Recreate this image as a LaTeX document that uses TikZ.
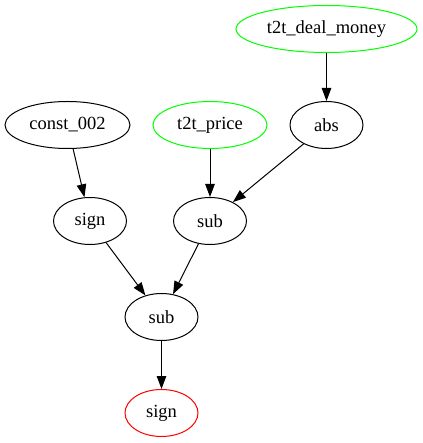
\documentclass[tikz,border=0pt]{standalone}
\usepackage{fontspec}
\setmainfont{Liberation Serif}
\usetikzlibrary{shapes.geometric,arrows.meta}

\begin{document}
\begin{tikzpicture}[x=1pt, y=-1pt,
        op/.style={ellipse, draw, line width=1pt, minimum height=47pt, inner sep=0pt, font=\fontsize{18.5}{20}\selectfont},
        edge/.style={line width=1pt, -{Triangle[length=13pt, width=9.5pt]}}]
        \useasboundingbox (0, 0) rectangle (422, 443);
        \node[op, draw=green, minimum width=181pt](money)at(326.5, 29){t2t\_deal\_money};
        \node[op, minimum width=125pt](const)at(67.5, 125){const\_002};
        \node[op, draw=green, minimum width=114pt](price)at(210, 125){t2t\_price};
        \node[op, minimum width=73pt](abs)at(326.5, 125){abs};
        \node[op, minimum width=73pt](sign)at(90, 221){sign};
        \node[op, minimum width=73pt](subA)at(210, 221){sub};
        \node[op, minimum width=73pt](subB)at(161.5, 317){sub};
        \node[op, draw=red, minimum width=73pt](out)at(161.5, 413){sign};
        \draw[edge] (money) -- (abs);
        \draw[edge] (const) -- (sign);
        \draw[edge] (price) -- (subA);
        \draw[edge] (abs) -- (subA);
        \draw[edge] (sign) -- (subB);
        \draw[edge] (subA) -- (subB);
        \draw[edge] (subB) -- (out);
    \end{tikzpicture}
\end{document}
